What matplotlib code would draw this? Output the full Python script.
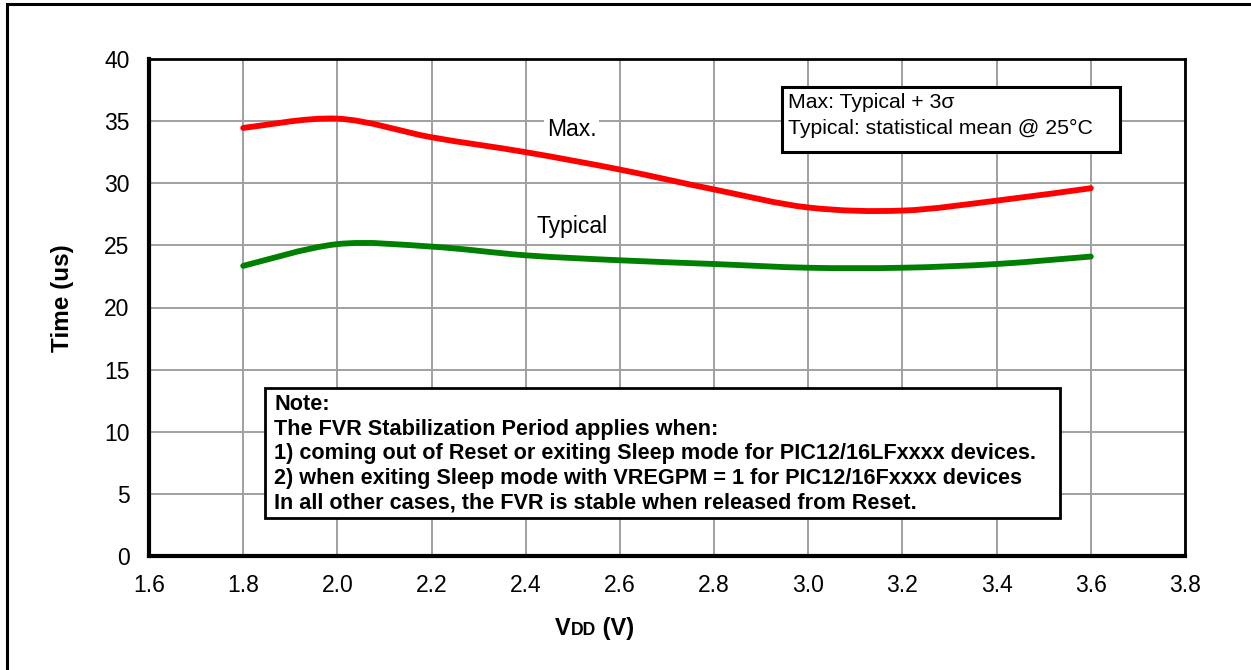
import numpy as np
import matplotlib.pyplot as plt
from matplotlib.path import Path
from matplotlib.patches import PathPatch, Rectangle

plt.rcParams['font.family'] = ['Liberation Sans', 'DejaVu Sans']

# values
vdd = [1.8, 2.0, 2.2, 2.4, 2.6, 2.8, 3.0, 3.2, 3.4, 3.6]
t_max = [34.45, 35.2, 33.7, 32.5, 31.1, 29.5, 28.05, 27.8, 28.6, 29.6]
t_typ = [23.35, 25.1, 24.9, 24.2, 23.8, 23.5, 23.2, 23.2, 23.5, 24.1]

xticks = [1.6, 1.8, 2.0, 2.2, 2.4, 2.6, 2.8, 3.0, 3.2, 3.4, 3.6, 3.8]
yticks = [0, 5, 10, 15, 20, 25, 30, 35, 40]

legend_lines = ["Max: Typical + 3\u03c3", "Typical: statistical mean @ 25\u00b0C"]
note_lines = [
    "Note:",
    "The FVR Stabilization Period applies when:",
    "1) coming out of Reset or exiting Sleep mode for PIC12/16LFxxxx devices.",
    "2) when exiting Sleep mode with VREGPM = 1 for PIC12/16Fxxxx devices",
    "In all other cases, the FVR is stable when released from Reset.",
]


def smooth_path(x, y):
    # Excel style smoothed line: Catmull-Rom segments as cubic beziers
    pts = np.column_stack([np.asarray(x, float), np.asarray(y, float)])
    verts = [pts[0]]
    codes = [Path.MOVETO]
    n = len(pts)
    for i in range(n - 1):
        p0 = pts[i - 1] if i > 0 else pts[i]
        p1 = pts[i]
        p2 = pts[i + 1]
        p3 = pts[i + 2] if i + 2 < n else pts[i + 1]
        verts += [p1 + (p2 - p0) / 6.0, p2 - (p3 - p1) / 6.0, p2]
        codes += [Path.CURVE4] * 3
    return Path(verts, codes)


W, H = 1251, 670
L, R, T, B = 149, 1185, 59, 556


def axx(px):
    return (px - L) / (R - L)


def axy(py):
    return (B - py) / (B - T)


fig = plt.figure(figsize=(W / 100, H / 100), dpi=100)
ax = fig.add_axes([L / W, 1 - B / H, (R - L) / W, (B - T) / H])

# outer frame
fig.patches.append(Rectangle((7 / W, -0.1), 1.2, 1 - 4 / H + 0.1,
                             transform=fig.transFigure, fill=False,
                             edgecolor='black', lw=2.2))

ax.set_xlim(1.6, 3.8)
ax.set_ylim(0, 40)
ax.set_xticks(xticks)
ax.set_xticklabels([f"{v:.1f}" for v in xticks])
ax.set_yticks(yticks)
ax.tick_params(length=0, labelsize=16.5)
ax.tick_params(axis='x', pad=13)
ax.tick_params(axis='y', pad=14)
ax.grid(True, color='#a0a0a0', lw=1.4)
ax.set_axisbelow(True)
for s in ['top', 'right']:
    ax.spines[s].set_linewidth(2.0)
for s in ['left', 'bottom']:
    ax.spines[s].set_linewidth(3.0)

for yv, col in [(t_max, '#ff0000'), (t_typ, '#008000')]:
    ax.add_patch(PathPatch(smooth_path(vdd, yv), fill=False, edgecolor=col,
                           lw=4.2, capstyle='round', zorder=3))

ax.text(2.498, 34.3, "Max.", fontsize=16.5, ha='center', va='center',
        bbox=dict(facecolor='white', edgecolor='none', pad=2), zorder=4)
ax.text(2.498, 26.5, "Typical", fontsize=16.5, ha='center', va='center',
        bbox=dict(facecolor='white', edgecolor='none', pad=2), zorder=4)

# legend box
ax.add_patch(Rectangle((axx(782), axy(152)), axx(1120) - axx(782),
                       axy(87) - axy(152), transform=ax.transAxes,
                       facecolor='white', edgecolor='black', lw=2.2, zorder=5))
for i, line in enumerate(legend_lines):
    ax.text(axx(788), axy(103 + 25 * i), line, transform=ax.transAxes,
            fontsize=15.3, ha='left', va='center', zorder=6)

# note box
ax.add_patch(Rectangle((axx(265), axy(518)), axx(1060) - axx(265),
                       axy(388) - axy(518), transform=ax.transAxes,
                       facecolor='white', edgecolor='black', lw=2.0, zorder=5))
for i, line in enumerate(note_lines):
    ax.text(axx(274), axy(405 + 24.5 * i), line, transform=ax.transAxes,
            fontsize=15.6, fontweight='bold', ha='left', va='center', zorder=6)

fig.text(62 / W, 1 - 298 / H, "Time (us)", fontsize=17.5, fontweight='bold',
         rotation=90, ha='center', va='center')

# x label: V with small-caps "DD", all on one baseline
fig.canvas.draw()
rend = fig.canvas.get_renderer()
x0 = 555.0
base = 1 - 635 / H
for txt, size, gap in [("V", 17, 0.5), ("DD", 12.7, 0.0), (" (V)", 17, 0.0)]:
    t = fig.text(x0 / W, base, txt, fontsize=size, fontweight='bold',
                 ha='left', va='baseline')
    x0 += t.get_window_extent(rend).width + gap

fig.savefig("out.png", dpi=100)
